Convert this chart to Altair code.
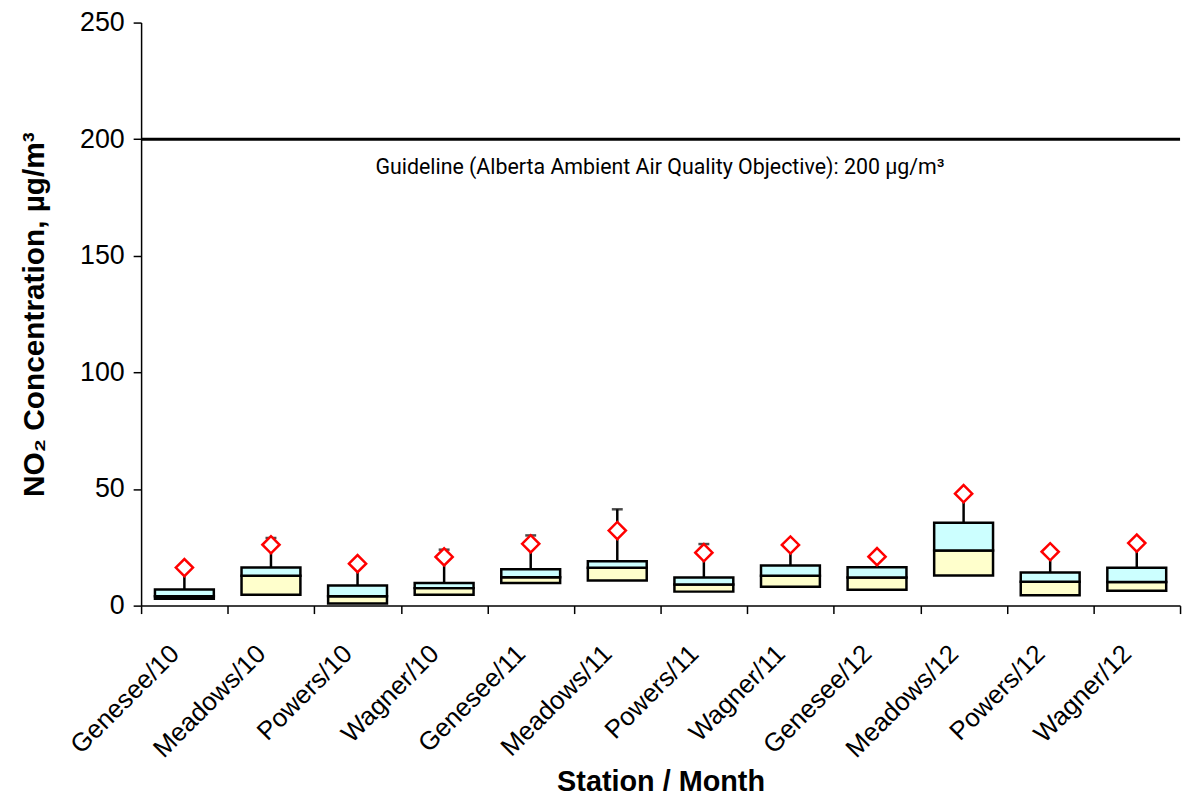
import altair as alt
import pandas as pd

stations = ["Genesee/10", "Meadows/10", "Powers/10", "Wagner/10",
            "Genesee/11", "Meadows/11", "Powers/11", "Wagner/11",
            "Genesee/12", "Meadows/12", "Powers/12", "Wagner/12"]
box_bottom = [2.9, 4.7, 0.9, 4.7, 9.7, 10.8, 6.0, 8.1, 6.8, 12.9, 4.4, 6.4]
box_median = [4.0, 12.8, 4.0, 7.5, 12.2, 16.2, 9.1, 12.8, 12.1, 23.6, 10.2, 10.1]
box_top = [6.9, 16.3, 8.6, 9.7, 15.6, 19.0, 12.1, 17.2, 16.5, 35.5, 14.2, 16.2]
whisker_top = [16.3, 29.0, 18.0, 24.0, 30.1, 41.3, 26.4, 26.5, 21.0, 48.0, 23.1, 26.8]
diamond = [16.3, 26.1, 18.0, 20.9, 26.5, 32.2, 22.7, 26.0, 21.0, 48.0, 23.1, 26.8]

guideline_value = 200
guideline_label = "Guideline (Alberta Ambient Air Quality Objective): 200 µg/m³"
guideline_label_value = 187.5

df = pd.DataFrame({
    "station": stations,
    "lo": box_bottom,
    "med": box_median,
    "hi": box_top,
    "wmax": whisker_top,
    "dia": diamond,
})

FONT = "Liberation Sans"

x_enc = alt.X(
    "station:N", sort=stations,
    scale=alt.Scale(paddingInner=0, paddingOuter=0),
    axis=alt.Axis(
        title="Station / Month", labelAngle=-45, labelAlign="right",
        labelBaseline="middle", labelFontSize=26, labelPadding=36, labelOffset=-10,
        tickBand="extent", tickSize=8, tickColor="#000", domainColor="#000",
        domainWidth=1.5, tickWidth=1.5, titleFontSize=29, titleFontWeight="bold",
        titlePadding=6, labelColor="#000", titleColor="#000", labelFont=FONT,
        titleFont=FONT,
    ),
)
y_scale = alt.Scale(domain=[0, 250], nice=False)
y_axis = alt.Axis(
    title="NO₂ Concentration, µg/m³", values=[0, 50, 100, 150, 200, 250],
    tickSize=8, labelPadding=9, labelFontSize=27, titleFontSize=30,
    titleFontWeight="bold", titlePadding=30, domainColor="#000", tickColor="#000",
    domainWidth=1.5, tickWidth=1.5, labelColor="#000", titleColor="#000",
    labelFont=FONT, titleFont=FONT, grid=False,
)

base = alt.Chart(df)
band = alt.RelativeBandSize(0.68)

lower = base.mark_bar(fill="#FFFFCC", stroke="#000", strokeWidth=2.5, width=band).encode(
    x=x_enc,
    y=alt.Y("lo:Q", scale=y_scale, axis=y_axis),
    y2="med:Q",
)
upper = base.mark_bar(fill="#CCFFFF", stroke="#000", strokeWidth=2.5, width=band).encode(
    x=alt.X("station:N", sort=stations),
    y=alt.Y("med:Q"),
    y2="hi:Q",
)
whisker = base.mark_rule(color="#000", strokeWidth=2.5).encode(
    x=alt.X("station:N", sort=stations),
    y=alt.Y("hi:Q"),
    y2="wmax:Q",
)
cap = base.mark_tick(color="#000", thickness=2.5, size=11, orient="horizontal").encode(
    x=alt.X("station:N", sort=stations),
    y=alt.Y("wmax:Q"),
)
points = base.mark_point(shape="diamond", filled=False, fill="white", fillOpacity=1,
                         stroke="#FF0000", strokeWidth=2.5, size=300, opacity=1).encode(
    x=alt.X("station:N", sort=stations),
    y=alt.Y("dia:Q"),
)
rule = alt.Chart(pd.DataFrame({"v": [guideline_value]})).mark_rule(
    color="#000", strokeWidth=3).encode(y=alt.Y("v:Q"))
label = alt.Chart(pd.DataFrame({"v": [guideline_label_value], "t": [guideline_label]})).mark_text(
    align="left", baseline="middle", fontSize=21.5, font="Roboto",
    color="#000", dx=18).encode(
    x=alt.datum("Powers/10"), y=alt.Y("v:Q"), text="t:N")

chart = alt.layer(lower, upper, whisker, cap, points, rule, label).properties(
    width=1046, height=587,
    autosize=alt.AutoSizeParams(type="none"),
    padding={"left": 134, "top": 12, "right": 8, "bottom": 190},
).configure_view(stroke=None)

chart.save("out.html", embed_options={"renderer": "svg", "actions": False})
